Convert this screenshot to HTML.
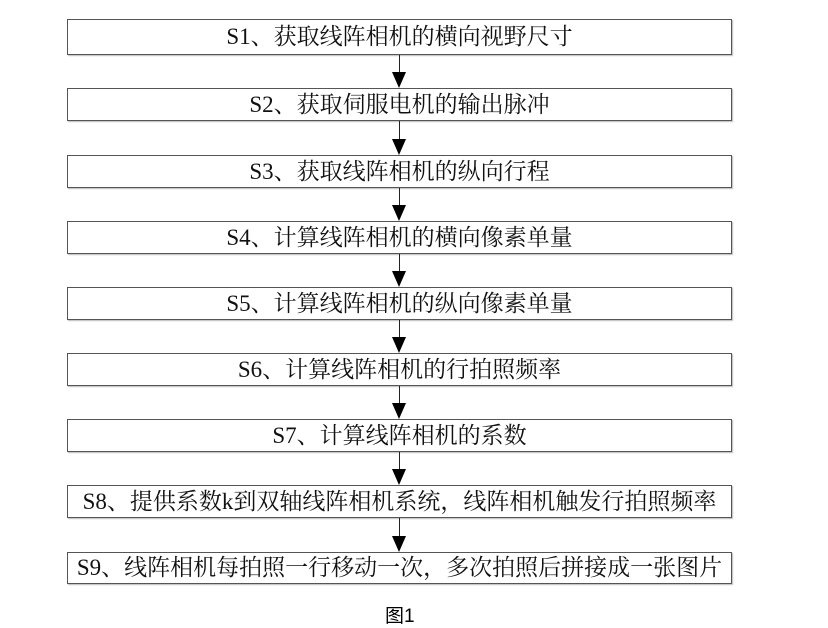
<!DOCTYPE html>
<html><head><meta charset="utf-8"><style>
body{margin:0;width:828px;height:627px;background:#fff;position:relative;overflow:hidden;font-family:"Liberation Serif","Noto Serif CJK SC",serif;}
.b{position:absolute;left:67px;width:665px;border:1px solid #555;box-sizing:border-box;text-align:center;font-size:23px;color:#111;box-shadow:1px 1px 1px #bbb;white-space:nowrap;}
.l{position:absolute;left:399px;width:1px;background:#222;}
.a{position:absolute;left:392px;width:0;height:0;border-left:7.5px solid transparent;border-right:7.5px solid transparent;border-top:16px solid #000;}
.cap{position:absolute;left:385px;top:601px;font-family:"Liberation Sans","Noto Sans CJK SC",sans-serif;font-size:19px;}
</style></head><body>
<div class="b" style="top:19px;height:36px;line-height:34px">S1、获取线阵相机的横向视野尺寸</div>
<div class="b" style="top:88px;height:33px;line-height:31px">S2、获取伺服电机的输出脉冲</div>
<div class="b" style="top:155px;height:33px;line-height:31px">S3、获取线阵相机的纵向行程</div>
<div class="b" style="top:221px;height:33px;line-height:31px">S4、计算线阵相机的横向像素单量</div>
<div class="b" style="top:287px;height:33px;line-height:31px">S5、计算线阵相机的纵向像素单量</div>
<div class="b" style="top:353px;height:33px;line-height:31px">S6、计算线阵相机的行拍照频率</div>
<div class="b" style="top:419px;height:33px;line-height:31px">S7、计算线阵相机的系数</div>
<div class="b" style="top:485px;height:33px;line-height:31px">S8、提供系数k到双轴线阵相机系统，线阵相机触发行拍照频率</div>
<div class="b" style="top:552px;height:32px;line-height:30px">S9、线阵相机每拍照一行移动一次，多次拍照后拼接成一张图片</div>
<div class="l" style="top:55px;height:18px"></div><div class="a" style="top:72px"></div>
<div class="l" style="top:121px;height:18px"></div><div class="a" style="top:139px"></div>
<div class="l" style="top:188px;height:17px"></div><div class="a" style="top:205px"></div>
<div class="l" style="top:254px;height:17px"></div><div class="a" style="top:271px"></div>
<div class="l" style="top:320px;height:17px"></div><div class="a" style="top:337px"></div>
<div class="l" style="top:386px;height:17px"></div><div class="a" style="top:403px"></div>
<div class="l" style="top:452px;height:17px"></div><div class="a" style="top:469px"></div>
<div class="l" style="top:518px;height:18px"></div><div class="a" style="top:536px"></div>
<div class="cap">图1</div>
</body></html>
